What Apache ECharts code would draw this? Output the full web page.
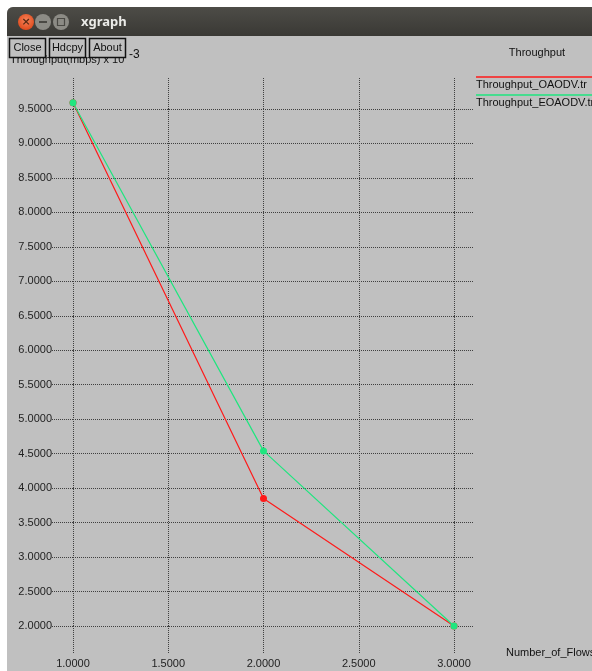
<!DOCTYPE html>
<html>
<head>
<meta charset="utf-8">
<script src="https://cdn.jsdelivr.net/npm/echarts@6/dist/echarts.min.js"></script>
<style>
html,body{margin:0;padding:0;background:#ffffff;}
#c{width:592px;height:671px;}
</style>
</head>
<body>
<div id="c"></div>
<script>
// ---- data ----
const xTicks = [1.0, 1.5, 2.0, 2.5, 3.0];
const flows = [1, 2, 3];
const oaodv = [9.59, 3.85, 2.0];
const eoaodv = [9.59, 4.54, 2.0];
const seriesNames = ['Throughput_OAODV.tr', 'Throughput_EOAODV.tr'];
const chartTitle = 'Throughput';
const xName = 'Number_of_Flows';
const yName = 'Throughput(mbps) x 10';

const BG = '#c0c0c0';
const RED = '#ff1a1a';
const GREEN = '#1fe67f';
const GRIDC = '#404040';
const FONT = '"Liberation Sans", Arial, sans-serif';

const chart = echarts.init(document.getElementById('c'));

const dotted = {color: GRIDC, width: 1, type: [1, 1]};

function fmt(v){ return v.toFixed(4); }

const option = {
  backgroundColor: '#ffffff',
  animation: false,
  grid: {left: 73, right: 138, top: 109, bottom: 45, containLabel: false},
  xAxis: [
    {
      type: 'value', min: 1, max: 3, interval: 0.5, position: 'bottom',
      axisLine: {show: false},
      axisTick: {show: true, inside: false, length: 27, lineStyle: dotted},
      axisLabel: {margin: 32, formatter: fmt, color: '#222', fontFamily: FONT, fontSize: 11},
      splitLine: {show: true, lineStyle: dotted}
    },
    {
      type: 'value', min: 1, max: 3, interval: 0.5, position: 'top',
      axisLine: {show: false},
      axisTick: {show: true, inside: false, length: 32, lineStyle: dotted},
      axisLabel: {show: false},
      splitLine: {show: false}
    }
  ],
  yAxis: [
    {
      type: 'value', min: 2, max: 9.5, interval: 0.5, position: 'left',
      axisLine: {show: false},
      axisTick: {show: true, inside: false, length: 21, lineStyle: dotted},
      axisLabel: {margin: 21, formatter: fmt, color: '#222', fontFamily: FONT, fontSize: 11},
      splitLine: {show: true, lineStyle: dotted}
    },
    {
      type: 'value', min: 2, max: 9.5, interval: 0.5, position: 'right',
      axisLine: {show: false},
      axisTick: {show: true, inside: false, length: 19, lineStyle: dotted},
      axisLabel: {show: false},
      splitLine: {show: false}
    }
  ],
  series: [
    {
      name: seriesNames[0], type: 'line', clip: false,
      data: flows.map((f, i) => [f, oaodv[i]]),
      symbol: 'circle', symbolSize: 7,
      lineStyle: {color: RED, width: 1.2},
      itemStyle: {color: RED},
      z: 3
    },
    {
      name: seriesNames[1], type: 'line', clip: false,
      data: flows.map((f, i) => [f, eoaodv[i]]),
      symbol: 'circle', symbolSize: 7,
      lineStyle: {color: GREEN, width: 1.2},
      itemStyle: {color: GREEN},
      z: 4
    }
  ],
  graphic: [
    // xgraph window background
    {type: 'rect', shape: {x: 7, y: 7, width: 600, height: 680, r: [6, 6, 0, 0]}, style: {fill: BG}, z: -10, silent: true},
    // title bar
    {type: 'rect', shape: {x: 7, y: 7, width: 600, height: 29, r: [6, 6, 0, 0]},
     style: {fill: new echarts.graphic.LinearGradient(0, 0, 0, 1, [{offset: 0, color: '#4d4c47'}, {offset: 1, color: '#3a3935'}])}, z: 10},
    {type: 'circle', shape: {cx: 26, cy: 22, r: 8},
     style: {fill: new echarts.graphic.RadialGradient(0.5, 0.4, 0.6, [{offset: 0, color: '#f7845a'}, {offset: 1, color: '#df4a1c'}])}, z: 11},
    {type: 'text', x: 26, y: 22, style: {text: '×', fill: '#5a2a14', font: 'bold 11px "DejaVu Sans"', align: 'center', verticalAlign: 'middle'}, z: 12},
    {type: 'circle', shape: {cx: 43, cy: 22, r: 8}, style: {fill: '#8c8b85'}, z: 11},
    {type: 'rect', shape: {x: 39, y: 21, width: 8, height: 2}, style: {fill: '#4a4944'}, z: 12},
    {type: 'circle', shape: {cx: 61, cy: 22, r: 8}, style: {fill: '#8c8b85'}, z: 11},
    {type: 'rect', shape: {x: 57.5, y: 18.5, width: 7, height: 7}, style: {fill: 'none', stroke: '#4a4944', lineWidth: 1.2}, z: 12},
    {type: 'text', x: 81, y: 22, style: {text: 'xgraph', fill: '#ebebe8', font: 'bold 13px "Noto Sans"', verticalAlign: 'middle'}, z: 11},
    // y axis label
    {type: 'text', x: 10, y: 60, style: {text: yName, fill: '#111', font: '11px ' + FONT, verticalAlign: 'middle'}, z: 5},
    {type: 'text', x: 129, y: 55, style: {text: '-3', fill: '#111', font: '12px ' + FONT, verticalAlign: 'middle'}, z: 5},
    // buttons
    {type: 'rect', shape: {x: 9.5, y: 38.5, width: 36, height: 19}, style: {fill: BG, stroke: '#111', lineWidth: 1.5}, z: 8},
    {type: 'text', x: 27.5, y: 48, style: {text: 'Close', fill: '#111', font: '11px ' + FONT, align: 'center', verticalAlign: 'middle'}, z: 9},
    {type: 'rect', shape: {x: 49.5, y: 38.5, width: 36, height: 19}, style: {fill: BG, stroke: '#111', lineWidth: 1.5}, z: 8},
    {type: 'text', x: 67.5, y: 48, style: {text: 'Hdcpy', fill: '#111', font: '11px ' + FONT, align: 'center', verticalAlign: 'middle'}, z: 9},
    {type: 'rect', shape: {x: 89.5, y: 38.5, width: 36, height: 19}, style: {fill: BG, stroke: '#111', lineWidth: 1.5}, z: 8},
    {type: 'text', x: 107.5, y: 48, style: {text: 'About', fill: '#111', font: '11px ' + FONT, align: 'center', verticalAlign: 'middle'}, z: 9},
    // title
    {type: 'text', x: 537, y: 53, style: {text: chartTitle, fill: '#111', font: '11px ' + FONT, align: 'center', verticalAlign: 'middle'}, z: 5},
    // legend
    {type: 'line', shape: {x1: 476, y1: 77, x2: 600, y2: 77}, style: {stroke: RED, lineWidth: 1.5}, z: 5},
    {type: 'text', x: 476, y: 84.5, style: {text: seriesNames[0], fill: '#111', font: '11px ' + FONT, verticalAlign: 'middle'}, z: 5},
    {type: 'line', shape: {x1: 476, y1: 95, x2: 600, y2: 95}, style: {stroke: GREEN, lineWidth: 1.5}, z: 5},
    {type: 'text', x: 476, y: 102.5, style: {text: seriesNames[1], fill: '#111', font: '11px ' + FONT, verticalAlign: 'middle'}, z: 5},
    // x axis name
    {type: 'text', x: 506, y: 653, style: {text: xName, fill: '#111', font: '11px ' + FONT, verticalAlign: 'middle'}, z: 5}
  ]
};
chart.setOption(option);
</script>
</body>
</html>
